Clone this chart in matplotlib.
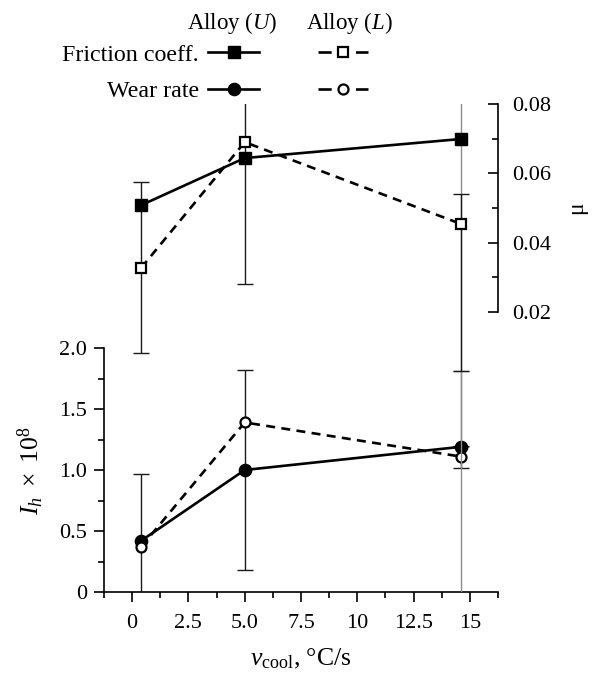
import matplotlib
matplotlib.use("Agg")
import matplotlib.pyplot as plt
from matplotlib.lines import Line2D
from matplotlib.ticker import FixedLocator, FixedFormatter

plt.rcParams["font.family"] = ["Liberation Serif", "DejaVu Serif"]
plt.rcParams["mathtext.fontset"] = "custom"
plt.rcParams["mathtext.rm"] = "Liberation Serif"
plt.rcParams["mathtext.it"] = "Liberation Serif:italic"
plt.rcParams["font.size"] = 16

# Cooling rate of the ingot, degC/s
cooling_rate = [0.4, 5.0, 14.6]

# Friction coefficient (right axis)
friction_U = [0.0508, 0.0644, 0.0699]
friction_L = [0.0327, 0.0690, 0.0454]
# Wear rate I_h x 1e8 (left axis)
wear_U = [0.42, 1.00, 1.19]
wear_L = [0.37, 1.39, 1.11]

# Scatter of the measurements: (below, above) each point; 0 means no bar
friction_U_err_lo = [0.0, 0.0363, 0.14]
friction_U_err_hi = [0.0, 0.02, 0.02]
friction_L_err_lo = [0.0245, 0.0, 0.0424]
friction_L_err_hi = [0.0248, 0.0, 0.0086]
wear_U_err_lo = [0.6, 0.82, 0.0]
wear_U_err_hi = [0.55, 0.82, 0.62]
wear_L_err_lo = [0.0, 0.0, 0.09]
wear_L_err_hi = [0.0, 0.0, 0.09]

x_ticks = [0, 2.5, 5.0, 7.5, 10, 12.5, 15]
x_tick_labels = ["0", "2.5", "5.0", "7.5", "10", "12.5", "15"]
wear_ticks = [0, 0.5, 1.0, 1.5, 2.0]
wear_tick_labels = ["0", "0.5", "1.0", "1.5", "2.0"]
mu_ticks = [0.02, 0.04, 0.06, 0.08]
mu_tick_labels = ["0.02", "0.04", "0.06", "0.08"]

W, H = 592, 673
fig = plt.figure(figsize=(W / 100, H / 100), dpi=100)
rect = [104 / W, 1 - 592 / H, 394 / W, 488 / H]

ax_w = fig.add_axes(rect)
ax_f = fig.add_axes(rect)
ax_f.patch.set_visible(False)

XLIM = (-1.25, 16.25)
for ax in (ax_w, ax_f):
    ax.set_xlim(*XLIM)
ax_w.set_ylim(0, 4.0)
ax_f.set_ylim(-0.0608, 0.08)

SP_LW = 1.2
# --- wear axes: left + bottom spines
ax_w.spines["top"].set_visible(False)
ax_w.spines["right"].set_visible(False)
ax_w.spines["left"].set_bounds(0, 2.0)
for s in ("left", "bottom"):
    ax_w.spines[s].set_linewidth(SP_LW)
ax_w.xaxis.set_major_locator(FixedLocator(x_ticks))
ax_w.xaxis.set_major_formatter(FixedFormatter(x_tick_labels))
ax_w.xaxis.set_minor_locator(FixedLocator([-1.25, 1.25, 3.75, 6.25, 8.75, 11.25, 13.75, 16.25]))
ax_w.yaxis.set_major_locator(FixedLocator(wear_ticks))
ax_w.yaxis.set_major_formatter(FixedFormatter(wear_tick_labels))
ax_w.yaxis.set_minor_locator(FixedLocator([0.25, 0.75, 1.25, 1.75]))
ax_w.tick_params(which="major", direction="out", length=7, width=SP_LW)
ax_w.tick_params(which="minor", direction="out", length=4, width=SP_LW)
ax_w.tick_params(axis="x", which="major", pad=9)
ax_w.tick_params(axis="y", which="major", pad=5)

# --- friction axes: right spine only
for s in ("top", "left", "bottom"):
    ax_f.spines[s].set_visible(False)
ax_f.spines["right"].set_bounds(0.02, 0.08)
ax_f.spines["right"].set_linewidth(SP_LW)
ax_f.tick_params(axis="x", which="both", bottom=False, labelbottom=False)
ax_f.yaxis.tick_right()
ax_f.yaxis.set_major_locator(FixedLocator(mu_ticks))
ax_f.yaxis.set_major_formatter(FixedFormatter(mu_tick_labels))
ax_f.yaxis.set_minor_locator(FixedLocator([0.03, 0.05, 0.07]))
ax_f.tick_params(axis="y", which="major", direction="in", length=7, width=SP_LW, pad=10)
ax_f.tick_params(axis="y", which="minor", direction="in", length=4, width=SP_LW)

DARK = "#1a1a1a"
GREY = "#8c8c8c"


def draw_errors(ax, xs, ys, lo, hi, colors):
    for x, y, a, b, c in zip(xs, ys, lo, hi, colors):
        if a == 0 and b == 0:
            continue
        ax.errorbar([x], [y], yerr=[[a], [b]], fmt="none", ecolor=c,
                    elinewidth=1.0, capsize=5.5, capthick=1.0, zorder=1)


draw_errors(ax_f, cooling_rate, friction_U, friction_U_err_lo, friction_U_err_hi,
            [DARK, DARK, GREY])
draw_errors(ax_f, cooling_rate, friction_L, friction_L_err_lo, friction_L_err_hi,
            [DARK, DARK, DARK])
draw_errors(ax_w, cooling_rate, wear_U, wear_U_err_lo, wear_U_err_hi,
            [DARK, DARK, GREY])
draw_errors(ax_w, cooling_rate, wear_L, wear_L_err_lo, wear_L_err_hi,
            [DARK, DARK, DARK])

LW = 1.9
DASH = (3.4, 2.4)
SQ_FILLED = dict(marker="s", ms=8, mfc="k", mec="k")
SQ_OPEN = dict(marker="s", ms=7.2, mfc="white", mec="k", mew=1.6)
CI_FILLED = dict(marker="o", ms=8.8, mfc="k", mec="k")
CI_OPEN = dict(marker="o", ms=7.2, mfc="white", mec="k", mew=1.6)

ax_f.plot(cooling_rate, friction_U, color="k", lw=LW, zorder=3, **SQ_FILLED)
ax_f.plot(cooling_rate, friction_L, color="k", lw=LW, ls=(0, DASH), zorder=3, **SQ_OPEN)
ax_w.plot(cooling_rate, wear_U, color="k", lw=LW, zorder=3, **CI_FILLED)
ax_w.plot(cooling_rate, wear_L, color="k", lw=LW, ls=(0, DASH), zorder=3, **CI_OPEN)

# axis titles
ax_w.set_xlabel(r"$v_{\mathrm{cool}}$, °C/s", fontsize=18.5, labelpad=10)
ax_w.text(-0.185, 0.248, r"$I_h\ \times\ 10^8$", transform=ax_w.transAxes,
          rotation=90, ha="center", va="center", fontsize=18.5)
ax_f.text(1.2, 0.787, "μ", transform=ax_f.transAxes, rotation=90,
          ha="center", va="center", fontsize=17)

# legend: rows = quantity, columns = alloy (one dash either side of the marker)
LEG_DASH = (5.0, 9.2)
key_fU = Line2D([], [], color="k", lw=LW, **SQ_FILLED)
key_wU = Line2D([], [], color="k", lw=LW, **CI_FILLED)
key_fL = Line2D([], [], color="k", lw=LW, ls=(0, LEG_DASH), **SQ_OPEN)
key_wL = Line2D([], [], color="k", lw=LW, ls=(0, LEG_DASH), **CI_OPEN)
fig.legend(handles=[key_fU, key_wU, key_fL, key_wL],
           labels=["Friction coeff.", "Wear rate", "", ""],
           ncol=2, markerfirst=False, frameon=False, loc="upper left",
           bbox_to_anchor=(62 / W, 1 - 44 / H), borderpad=0, borderaxespad=0,
           handlelength=2.1, handletextpad=0.4, columnspacing=2.05,
           labelspacing=0.60, fontsize=17.3)
fig.text(232 / W, 1 - 23 / H, r"Alloy ($U$)", ha="center", va="center", fontsize=16.5)
fig.text(349 / W, 1 - 23 / H, r"Alloy ($L$)", ha="center", va="center", fontsize=16.5)

fig.savefig("out.png", dpi=100)
